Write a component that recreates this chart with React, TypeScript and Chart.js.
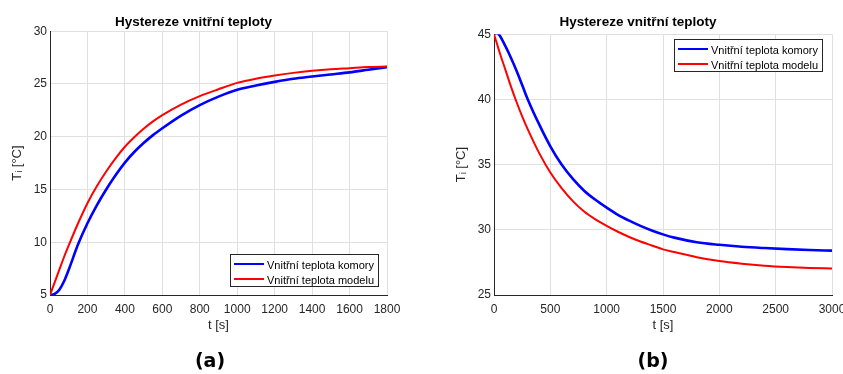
import React, { useEffect, useRef } from "react";
import { Chart, registerables } from "chart.js";

Chart.register(...registerables);

const FONT = "'Liberation Sans', Arial, Helvetica, sans-serif";
const TEXT = "#262626";
const GRID = "#e0e0e0";

const chartTitle = "Hystereze vnitřní teploty";
const seriesNames = ["Vnitřní teplota komory", "Vnitřní teplota modelu"];
const xAxisTitle = "t [s]";
const yAxisTitle = "Tᵢ [°C]";
const panelLabels = ["(a)", "(b)"];

// Panel (a)
const timeA = [0, 25, 50, 75, 100, 150, 200, 250, 300, 350, 400, 450, 500, 550, 600, 700, 800, 900, 1000, 1100, 1200, 1300, 1400, 1500, 1600, 1700, 1800];
const komoryA = [5, 5.1, 5.5, 6.3, 7.4, 9.8, 11.8, 13.5, 15.0, 16.35, 17.55, 18.55, 19.4, 20.15, 20.8, 22.0, 23.0, 23.8, 24.45, 24.85, 25.2, 25.5, 25.7, 25.9, 26.1, 26.35, 26.6];
const modelA = [5, 6.2, 7.4, 8.6, 9.7, 11.8, 13.7, 15.3, 16.7, 17.95, 19.05, 19.95, 20.75, 21.45, 22.05, 23.05, 23.85, 24.5, 25.1, 25.5, 25.8, 26.05, 26.25, 26.4, 26.5, 26.6, 26.65];
const xTicksA = { min: 0, max: 1800, step: 200 };
const yTicksA = { min: 5, max: 30, step: 5 };

// Panel (b)
const timeB = [0, 25, 50, 100, 150, 200, 250, 300, 400, 500, 600, 700, 800, 900, 1000, 1100, 1200, 1300, 1400, 1500, 1600, 1800, 2000, 2200, 2400, 2600, 2800, 3000];
const komoryB = [45, 45.1, 44.9, 44.1, 43.2, 42.2, 41.1, 40.0, 38.1, 36.4, 35.0, 33.9, 33.0, 32.3, 31.7, 31.15, 30.7, 30.3, 29.95, 29.65, 29.4, 29.05, 28.85, 28.7, 28.6, 28.52, 28.45, 28.4];
const modelB = [45, 44.3, 43.6, 42.3, 41.0, 39.8, 38.7, 37.7, 35.9, 34.4, 33.2, 32.2, 31.4, 30.8, 30.3, 29.85, 29.45, 29.1, 28.8, 28.5, 28.3, 27.9, 27.6, 27.4, 27.25, 27.15, 27.08, 27.03];
const xTicksB = { min: 0, max: 3000, step: 500 };
const yTicksB = { min: 25, max: 45, step: 5 };

function buildConfig(t: number[], komory: number[], model: number[], xt: any, yt: any, titleBottom: number): any {
  return {
    type: "line",
    data: {
      datasets: [
        {
          label: seriesNames[0],
          data: t.map((x, i) => ({ x, y: komory[i] })),
          borderColor: "#0000ff",
          borderWidth: 2.6,
          pointRadius: 0,
          cubicInterpolationMode: "monotone",
          order: 2,
        },
        {
          label: seriesNames[1],
          data: t.map((x, i) => ({ x, y: model[i] })),
          borderColor: "#ff0000",
          borderWidth: 2,
          pointRadius: 0,
          cubicInterpolationMode: "monotone",
          order: 1,
        },
      ],
    },
    options: {
      responsive: false,
      animation: false,
      devicePixelRatio: 1,
      layout: { padding: { left: 0, right: 50, top: 0, bottom: 0 } },
      plugins: {
        legend: { display: false },
        tooltip: { enabled: false },
        title: {
          display: true,
          text: chartTitle,
          color: "#000",
          font: { family: FONT, size: 13.5, weight: "bold", lineHeight: 1.2 },
          padding: { top: 14, bottom: titleBottom },
        },
      },
      scales: {
        x: {
          type: "linear",
          min: xt.min,
          max: xt.max,
          ticks: {
            stepSize: xt.step,
            color: TEXT,
            font: { family: FONT, size: 12 },
            padding: 7,
            maxRotation: 0,
            autoSkip: false,
            callback: (v: any) => String(v),
          },
          grid: { color: GRID, drawTicks: false },
          border: { color: TEXT, width: 1 },
          title: {
            display: true,
            text: xAxisTitle,
            color: TEXT,
            font: { family: FONT, size: 13 },
            padding: { top: 0, bottom: 41 },
          },
          afterFit: (s: any) => {
            s.height = 79;
          },
        },
        y: {
          type: "linear",
          min: yt.min,
          max: yt.max,
          ticks: {
            stepSize: yt.step,
            color: TEXT,
            font: { family: FONT, size: 12 },
            padding: 3,
            callback: (v: any) => String(v),
          },
          grid: { color: GRID, drawTicks: false },
          border: { color: TEXT, width: 1 },
          title: {
            display: true,
            text: yAxisTitle,
            color: TEXT,
            font: { family: FONT, size: 13 },
            padding: { top: 10, bottom: 0 },
          },
          afterFit: (s: any) => {
            s.width = 50;
          },
        },
      },
    },
  };
}

function Panel({ left, width, config }: { left: number; width: number; config: () => any }) {
  const ref = useRef<HTMLCanvasElement | null>(null);
  useEffect(() => {
    if (!ref.current) return;
    const chart = new Chart(ref.current, config());
    return () => chart.destroy();
  }, []);
  return (
    <canvas
      ref={ref}
      width={width}
      height={374}
      style={{ position: "absolute", left, top: 0, width, height: 374 }}
    />
  );
}

function Legend({ left, top }: { left: number; top: number }) {
  const colors = ["#0000ff", "#ff0000"];
  const rows = [10, 24.5];
  return (
    <div
      style={{
        position: "absolute",
        left,
        top,
        width: 149,
        height: 33,
        boxSizing: "border-box",
        border: "1px solid #262626",
        background: "#fff",
        fontFamily: FONT,
        fontSize: 11,
        color: "#000",
      }}
    >
      {seriesNames.map((name, i) => (
        <React.Fragment key={name}>
          <div
            style={{
              position: "absolute",
              left: 3,
              top: rows[i] - 2,
              width: 30,
              height: 2,
              background: colors[i],
            }}
          />
          <div
            style={{
              position: "absolute",
              left: 36,
              top: rows[i] - 8,
              height: 16,
              lineHeight: "16px",
              whiteSpace: "nowrap",
            }}
          >
            {name}
          </div>
        </React.Fragment>
      ))}
    </div>
  );
}

export default function App() {
  return (
    <div
      style={{
        position: "fixed",
        left: 0,
        top: 0,
        width: 843,
        height: 374,
        overflow: "hidden",
        background: "#fff",
      }}
    >
      <Panel left={0} width={437} config={() => buildConfig(timeA, komoryA, modelA, xTicksA, yTicksA, 1)} />
      <Panel left={444} width={438} config={() => buildConfig(timeB, komoryB, modelB, xTicksB, yTicksB, 4)} />
      <Legend left={230} top={254} />
      <Legend left={674} top={39} />
      {panelLabels.map((lab, i) => (
        <div
          key={lab}
          style={{
            position: "absolute",
            left: i === 0 ? 160 : 603,
            top: 348,
            width: 100,
            textAlign: "center",
            fontFamily: "'DejaVu Sans', sans-serif",
            fontWeight: "bold",
            fontSize: 19,
            lineHeight: "24px",
            color: "#000",
          }}
        >
          {lab}
        </div>
      ))}
    </div>
  );
}
